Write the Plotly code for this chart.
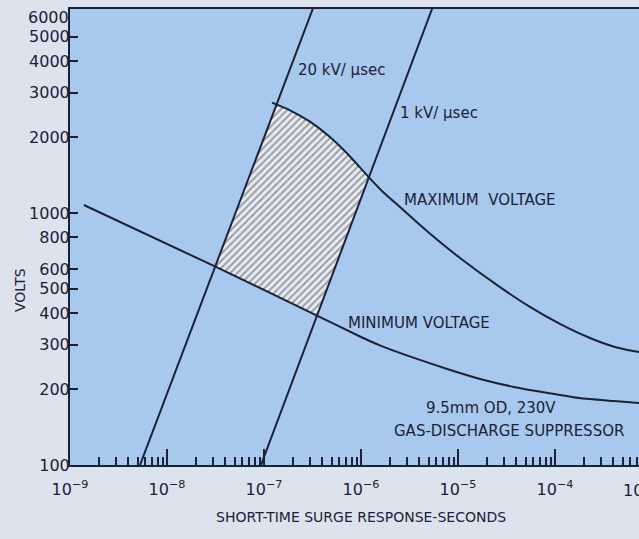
import numpy as np
import plotly.graph_objects as go

# ---------------- data ----------------
# Maximum-voltage curve (seconds, volts)
t_max = [1.209e-7, 1.853e-7, 2.98e-7, 4.79e-7, 7.70e-7, 1.181e-6, 1.686e-6, 2.524e-6,
         4.057e-6, 6.52e-6, 1.048e-5, 2.71e-5, 5.52e-5, 1.125e-4, 2.296e-4, 4.155e-4,
         7.35e-4, 1.0e-3]
v_max = [2740, 2556, 2303, 2001, 1676, 1398, 1212, 1056,
         896, 767, 663, 508, 424, 363, 319, 294,
         281, 279]

# Minimum-voltage curve
t_min = [1.39e-9, 3.2e-8, 3.6e-7, 1.0e-6, 1.61e-6, 3.52e-6, 7.88e-6, 1.73e-5,
         3.78e-5, 8.47e-5, 1.85e-4, 4.06e-4, 7.5e-4, 1.0e-3]
v_min = [1076, 611, 390, 322, 297, 266, 240, 219,
         204, 193, 184, 179.5, 176, 174]

# Rate-of-rise lines
t_20kv = [5.27e-9, 3.18e-7]
v_20kv = [100, 6450]
t_1kv = [9.31e-8, 5.40e-6]
v_1kv = [100, 6450]

x_tickvals = [1e-9, 1e-8, 1e-7, 1e-6, 1e-5, 1e-4]
x_ticktext = ["10<sup>−9</sup>", "10<sup>−8</sup>", "10<sup>−7</sup>",
              "10<sup>−6</sup>", "10<sup>−5</sup>", "10<sup>−4</sup>"]
y_tickvals = [100, 200, 300, 400, 500, 600, 800, 1000, 2000, 3000, 4000, 5000]
y_ticktext = [str(v) for v in y_tickvals]

# ---------------- helpers ----------------
def lg(a):
    return np.log10(np.asarray(a, dtype=float))


def intersect(lt, lv, ct, cv):
    p0 = np.array([lg(lt)[0], lg(lv)[0]])
    p1 = np.array([lg(lt)[1], lg(lv)[1]])
    cx, cy = lg(ct), lg(cv)
    d = p1 - p0
    for i in range(len(cx) - 1):
        q0 = np.array([cx[i], cy[i]])
        q1 = np.array([cx[i + 1], cy[i + 1]])
        e = q1 - q0
        m = np.array([[d[0], -e[0]], [d[1], -e[1]]])
        if abs(np.linalg.det(m)) < 1e-12:
            continue
        s, u = np.linalg.solve(m, q0 - p0)
        if 0 <= u <= 1:
            pt = q0 + u * e
            return pt, i
    raise ValueError("no intersection")


A, iA = intersect(t_20kv, v_20kv, t_min, v_min)
B, iB = intersect(t_20kv, v_20kv, t_max, v_max)
C, iC = intersect(t_1kv, v_1kv, t_max, v_max)
D, iD = intersect(t_1kv, v_1kv, t_min, v_min)

lxm, lym = lg(t_max), lg(v_max)
lxn, lyn = lg(t_min), lg(v_min)
px = [A[0], B[0]] + list(lxm[iB + 1:iC + 1]) + [C[0], D[0]] + list(lxn[iA + 1:iD + 1][::-1]) + [A[0]]
py = [A[1], B[1]] + list(lym[iB + 1:iC + 1]) + [C[1], D[1]] + list(lyn[iA + 1:iD + 1][::-1]) + [A[1]]
poly_t = list(10 ** np.array(px))
poly_v = list(10 ** np.array(py))

# ---------------- figure ----------------
INK = "#1a2239"
FONT = "DejaVu Sans"
PAPER = "#dce3ed"
W, H = 639, 539
L, R, T, B_ = 70, 0, 9, 74
PW, PH = W - L - R, H - T - B_


def pxx(p):
    return (p - L) / PW


def pyy(p):
    return (H - B_ - p) / PH


fig = go.Figure()

fig.add_trace(go.Scatter(
    x=poly_t, y=poly_v, mode="lines", fill="toself",
    line=dict(width=0, color="rgba(0,0,0,0)"),
    fillcolor="#e6ebf2",
    fillpattern=dict(shape="/", size=5, solidity=0.42,
                     fgcolor="#50535a", bgcolor="#e8edf3"),
    hoverinfo="skip", showlegend=False))

for tx, vy in [(t_20kv, v_20kv), (t_1kv, v_1kv)]:
    fig.add_trace(go.Scatter(x=tx, y=vy, mode="lines",
                             line=dict(color=INK, width=2),
                             showlegend=False, hoverinfo="skip"))
for tx, vy in [(t_max, v_max), (t_min, v_min)]:
    fig.add_trace(go.Scatter(x=tx, y=vy, mode="lines",
                             line=dict(color=INK, width=2, shape="spline", smoothing=0.5),
                             showlegend=False, hoverinfo="skip"))

ann = []


def text(s, x, y, size=14, xanchor="left", angle=0):
    ann.append(dict(text=s, xref="paper", yref="paper", x=pxx(x), y=pyy(y),
                    xanchor=xanchor, yanchor="middle", showarrow=False,
                    textangle=angle, font=dict(family=FONT, size=size, color=INK)))


text("20 kV/ µsec", 296, 70, 15)
text("1 kV/ µsec", 398, 113, 15)
text("MAXIMUM  VOLTAGE", 402, 200, 15)
text("MINIMUM VOLTAGE", 346, 323, 15)
text("9.5mm OD, 230V", 491, 408, 15, "center")
text("GAS-DISCHARGE SUPPRESSOR", 509, 431, 15, "center")
text("VOLTS", 20, 290, 14, "center", -90)
text("SHORT-TIME SURGE RESPONSE-SECONDS", 361, 517, 14, "center")
text("6000", 71, 17, 16, "right")
text("10<sup>−3</sup>", 641, 489, 16, "center")

fig.update_layout(
    width=W, height=H,
    margin=dict(l=L, r=R, t=T, b=B_),
    paper_bgcolor=PAPER, plot_bgcolor="#a9c8ee",
    font=dict(family=FONT, color=INK),
    annotations=ann,
    xaxis=dict(type="log", range=[-9, -9 + PW / 97.0],
               tickvals=x_tickvals, ticktext=x_ticktext,
               ticks="inside", ticklen=16, tickwidth=2, tickcolor=INK,
               showline=True, linewidth=2, linecolor=INK, mirror=True,
               showgrid=False, zeroline=False, ticklabelstandoff=9,
               tickfont=dict(family=FONT, size=16, color=INK),
               minor=dict(ticks="inside", ticklen=8, tickwidth=2,
                          tickcolor=INK, dtick="D1", showgrid=False)),
    yaxis=dict(type="log", range=[2, 2 + PH / 252.0],
               tickvals=y_tickvals, ticktext=y_ticktext,
               ticks="inside", ticklen=8, tickwidth=2, tickcolor=INK,
               showline=True, linewidth=2, linecolor=INK,
               showgrid=False, zeroline=False, ticklabelstandoff=-5,
               tickfont=dict(family=FONT, size=16, color=INK)),
)

fig.write_html(
    "out.html",
    config={"displayModeBar": False, "staticPlot": True},
    post_script="document.body.style.margin='0px';"
                "document.body.style.overflow='hidden';"
                "document.body.style.background='" + PAPER + "';",
)
